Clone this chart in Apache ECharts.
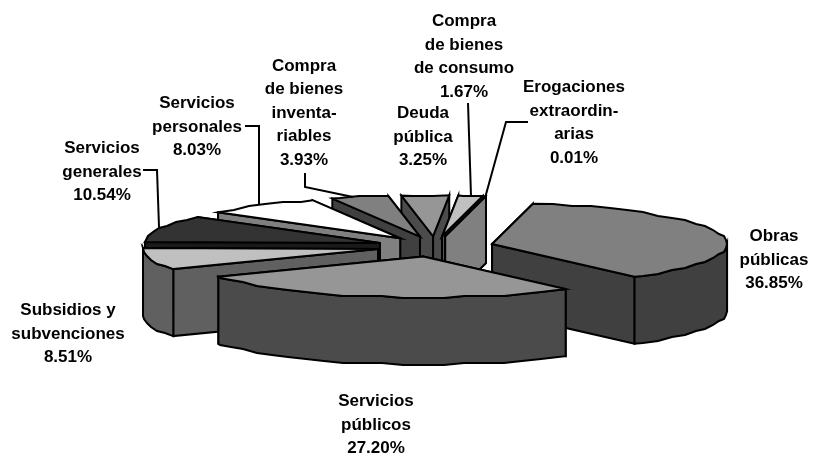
<!DOCTYPE html>
<html>
<head>
<meta charset="utf-8">
<style>
  html, body { margin: 0; padding: 0; background: #fff; }
  #chart { width: 817px; height: 454px; }
</style>
<script src="https://cdn.jsdelivr.net/npm/echarts@6/dist/echarts.min.js"></script>
</head>
<body>
<div id="chart"></div>
<script>
const categories = [
  'Obras\npúblicas',
  'Servicios\npúblicos',
  'Subsidios y\nsubvenciones',
  'Servicios\ngenerales',
  'Servicios\npersonales',
  'Compra\nde bienes\ninventa-\nriables',
  'Deuda\npública',
  'Compra\nde bienes\nde consumo',
  'Erogaciones\nextraordin-\narias'
]
const values = [36.85, 27.20, 8.51, 10.54, 8.03, 3.93, 3.25, 1.67, 0.01]
const topColors = ['#808080', '#969696', '#c0c0c0', '#333333', '#ffffff', '#808080', '#969696', '#c0c0c0', '#ffffff']
const sideColors = ['#404040', '#4b4b4b', '#606060', '#1a1a1a', '#808080', '#404040', '#4b4b4b', '#606060', '#808080']
// label centres, same order as categories
const labelX = [774, 376, 68, 102, 197, 304, 423, 464, 574]
const labelY = [260, 425, 334, 172, 127, 113, 137, 57, 123]
const leaders = [
  [[143, 170], [157, 170], [159, 227]],
  [[245, 126], [259, 126], [259, 205]],
  [[305, 173], [305, 187], [353, 197]],
  [[468, 103], [471, 196]],
  [[528, 122], [506, 122], [485, 198]]
]

const cx = 435
const cy = 246.5
const rx = 235
const ry = 41
const depth = 67
const explode = 0.25
const startAngle = 10
const total = values.reduce((a, b) => a + b, 0)

// slices in degrees clockwise from 12 o'clock
const slices = []
let acc = startAngle
values.forEach((v, i) => {
  const span = v / total * 360
  slices.push({ i, s: acc, e: acc + span, mid: acc + span / 2 })
  acc += span
})
// back to front, the slice nearest to 6 o'clock goes last
const drawOrder = slices.slice().sort((p, q) => {
  const dist = d => Math.abs(((d % 360) + 360) % 360 - 180)
  return dist(q.mid) - dist(p.mid)
})

function rimPoint(ox, oy, t) {
  const r = t * Math.PI / 180
  return [ox + rx * Math.sin(r), oy - ry * Math.cos(r)]
}

// the old office renderer draws the rim as a stair of short pieces
function rim(ox, oy, from, to) {
  const pts = [rimPoint(ox, oy, from)]
  const first = Math.ceil(from / 5) * 5
  for (let t = first; t < to; t += 5) {
    if (t <= from) continue
    const p = rimPoint(ox, oy, t)
    pts.push([Math.round(p[0]), Math.round(p[1] / 2) * 2])
  }
  pts.push(rimPoint(ox, oy, to))
  return pts
}

function renderSlice(params, api) {
  const sl = drawOrder[params.dataIndex]
  const top = topColors[sl.i]
  const side = sideColors[sl.i]
  const r = sl.mid * Math.PI / 180
  const ox = cx + explode * rx * Math.sin(r)
  const oy = cy - explode * ry * Math.cos(r)
  const style = { lineWidth: 2, stroke: '#000', lineJoin: 'miter' }
  const poly = (points, fill) => ({
    type: 'polygon',
    shape: { points },
    style: Object.assign({ fill }, style)
  })
  const down = p => [p[0], p[1] + depth]
  const apex = [ox, oy]
  const children = []
  const faces = [rimPoint(ox, oy, sl.s), rimPoint(ox, oy, sl.e)].sort((p, q) => p[1] - q[1])
  faces.forEach(p => {
    children.push(poly([apex, p, down(p), down(apex)], side))
  })
  const a = Math.max(sl.s, 90)
  const b = Math.min(sl.e, 270)
  if (b > a) {
    const arc = rim(ox, oy, a, b)
    children.push(poly(arc.concat(arc.slice().reverse().map(down)), side))
  }
  children.push(poly([apex].concat(rim(ox, oy, sl.s, sl.e)), top))
  return { type: 'group', children }
}

const labels = categories.map((name, i) => ({
  type: 'text',
  x: labelX[i],
  y: labelY[i],
  z: 10,
  style: {
    text: name + '\n' + values[i].toFixed(2) + '%',
    font: 'bold 17px "Liberation Sans", Arial, sans-serif',
    lineHeight: 23.5,
    fill: '#000',
    align: 'center',
    verticalAlign: 'middle'
  }
}))
const lines = leaders.map(points => ({
  type: 'polyline',
  z: 10,
  shape: { points },
  style: { stroke: '#000', lineWidth: 2, fill: null }
}))

const chart = echarts.init(document.getElementById('chart'))
chart.setOption({
  animation: false,
  backgroundColor: '#fff',
  graphic: labels.concat(lines),
  series: [{
    type: 'custom',
    coordinateSystem: 'none',
    silent: true,
    data: drawOrder.map(sl => values[sl.i]),
    renderItem: renderSlice
  }]
})
</script>
</body>
</html>
